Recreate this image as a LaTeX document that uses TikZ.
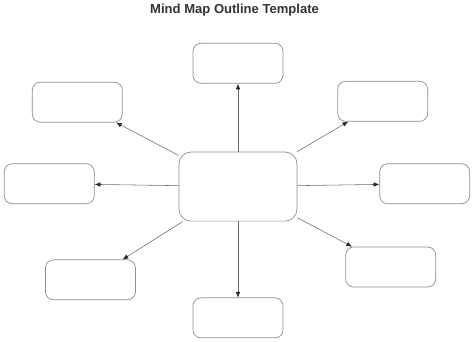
\documentclass[tikz,border=0pt]{standalone}
\usepackage{fontspec}
\setmainfont{Liberation Sans}
\usepackage{xcolor}
\usepackage{tikz}
\usetikzlibrary{arrows.meta,positioning}
\definecolor{cEdge}{HTML}{8E8E8E}
\definecolor{cLine}{HTML}{6A6A6A}
\definecolor{cTip}{HTML}{262626}
\definecolor{cTitle}{HTML}{333333}

\begin{document}
\begin{tikzpicture}[
  node distance=2.4cm and 2.9cm,
  box/.style={draw=cEdge,line width=0.7pt,fill=white,rounded corners=0.28cm,
              minimum width=3.15cm,minimum height=1.4cm,inner sep=0pt},
  hubbox/.style={box,rounded corners=0.42cm,minimum width=4.13cm,
                 minimum height=2.42cm},
  heading/.style={font=\fontsize{13}{15}\selectfont\bfseries,text=cTitle,
                  inner sep=0pt},
  fl/.style={-{Latex[length=2mm,width=1.6mm,color=cTip]},draw=cLine,
             line width=0.55pt},
  ]
  \useasboundingbox (-8.33,6.53) rectangle (8.26,-5.41);

  \node[hubbox] (hub) at (0,0) {};
  \node[heading] (title) at (-0.12,6.16) {Mind Map Outline Template};

  \node[box,above=2.38cm of hub] (top) {};
  \node[box,below=2.66cm of hub] (bottom) {};
  \node[box,left=2.94cm of hub,yshift=0.1cm] (left) {};
  \node[box,right=2.87cm of hub,yshift=0.1cm] (right) {};
  \node[box,above left=1.02cm and 1.96cm of hub] (topleft) {};
  \node[box,above right=1.05cm and 1.4cm of hub] (topright) {};
  \node[box,below left=1.33cm and 1.5cm of hub] (botleft) {};
  \node[box,below right=0.88cm and 1.68cm of hub] (botright) {};

  \draw[fl] (hub) -- (top);
  \draw[fl] (hub) -- (bottom);
  \draw[fl] (hub) -- (left);
  \draw[fl] (hub) -- (right);
  \draw[fl] (hub) -- (topleft);
  \draw[fl] (hub) -- (topright);
  \draw[fl] (hub) -- (botleft);
  \draw[fl] (hub) -- (botright);
\end{tikzpicture}
\end{document}
